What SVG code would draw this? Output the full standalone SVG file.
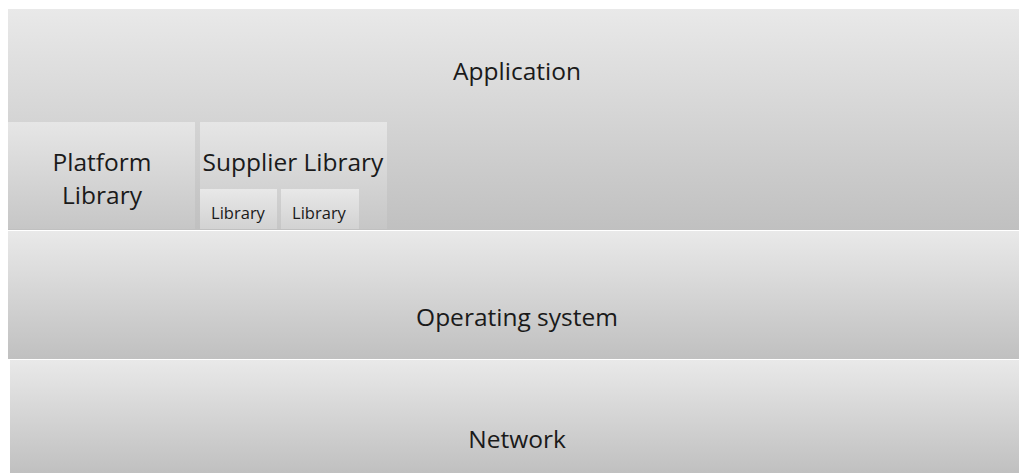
<svg xmlns="http://www.w3.org/2000/svg" width="1019" height="473" viewBox="0 0 1019 473">
<defs>
<linearGradient id="g" x1="0" y1="0" x2="0" y2="1">
<stop offset="0" stop-color="#e9e9e9"/>
<stop offset="1" stop-color="#c0c0c0"/>
</linearGradient>
<linearGradient id="g2" x1="0" y1="0" x2="0" y2="1">
<stop offset="0" stop-color="#e6e6e6"/>
<stop offset="1" stop-color="#c6c6c6"/>
</linearGradient>
<linearGradient id="g3" x1="0" y1="0" x2="0" y2="1">
<stop offset="0" stop-color="#e8e8e8"/>
<stop offset="1" stop-color="#d2d2d2"/>
</linearGradient>
</defs>
<style>
text{font-family:"Open Sans","Liberation Sans",sans-serif;fill:#1a1a1a;text-anchor:middle}
.big{font-size:24.5px}
.small{font-size:16.5px}
</style>
<rect width="1019" height="473" fill="#ffffff"/>
<g id="application">
<rect x="8" y="9" width="1011" height="221" fill="url(#g)"/>
<text class="big" x="517" y="80">Application</text>
</g>
<g id="platform-library">
<rect x="8" y="122" width="187" height="107" fill="url(#g2)"/>
<text class="big" x="102" y="171">Platform</text>
<text class="big" x="102" y="204">Library</text>
</g>
<g id="supplier-library">
<rect x="200" y="122" width="187" height="107" fill="url(#g2)"/>
<text class="big" x="293" y="171">Supplier Library</text>
</g>
<g id="library-1">
<rect x="200" y="189" width="77" height="40" fill="url(#g3)"/>
<text class="small" x="238" y="219">Library</text>
</g>
<g id="library-2">
<rect x="281" y="189" width="78" height="40" fill="url(#g3)"/>
<text class="small" x="319" y="219">Library</text>
</g>
<g id="operating-system">
<rect x="8" y="231" width="1011" height="128" fill="url(#g)"/>
<text class="big" x="517" y="326">Operating system</text>
</g>
<g id="network">
<rect x="10" y="360" width="1009" height="113" fill="url(#g)"/>
<text class="big" x="517" y="448">Network</text>
</g>
<g id="connectors"/>
</svg>
